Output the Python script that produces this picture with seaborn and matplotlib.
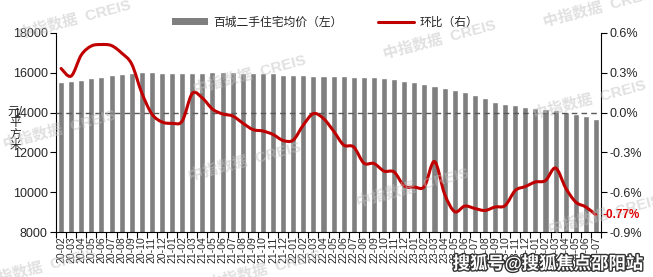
import numpy as np
import matplotlib
matplotlib.use('Agg')
import matplotlib.pyplot as plt
import seaborn as sns
from matplotlib.path import Path
from matplotlib.patches import PathPatch, Patch
from matplotlib.lines import Line2D
import matplotlib.patheffects as pe

# ---- data ----
months = [f"{y % 100:02d}-{m:02d}" for y in range(2020, 2025) for m in range(1, 13)
          if (y, m) >= (2020, 2) and (y, m) <= (2024, 7)]
price = [15545, 15590, 15640, 15730, 15780, 15880, 15930, 15995, 16040, 16040,
         15995, 15970, 15970, 15970, 15995, 16015, 16015, 16015, 15995, 15995,
         15965, 15965, 15900, 15895, 15865, 15845, 15845, 15845, 15830, 15795,
         15780, 15755, 15705, 15655, 15580, 15530, 15430, 15330, 15230, 15130,
         15005, 14880, 14730, 14545, 14430, 14365, 14295, 14245, 14180, 14130,
         14020, 13930, 13830, 13680]
mom = [0.331, 0.274, 0.432, 0.500, 0.511, 0.503, 0.447, 0.364, 0.147, -0.011,
       -0.071, -0.081, -0.064, 0.143, 0.109, 0.026, -0.011, -0.026, -0.079, -0.128,
       -0.139, -0.165, -0.210, -0.207, -0.094, -0.008, -0.045, -0.139, -0.244, -0.259,
       -0.380, -0.383, -0.440, -0.447, -0.552, -0.560, -0.556, -0.368, -0.612, -0.745,
       -0.703, -0.721, -0.736, -0.710, -0.699, -0.586, -0.556, -0.522, -0.511, -0.417,
       -0.567, -0.673, -0.710, -0.770]
left_ticks = [8000, 10000, 12000, 14000, 16000, 18000]
right_ticks = [-0.9, -0.6, -0.3, 0.0, 0.3, 0.6]
bar_label = "百城二手住宅均价（左）"
line_label = "环比（右）"
unit_label = "元/\n平\n方\n米"
last_label = "-0.77%"

BAR_C = '#7f7f7f'
LINE_C = '#c00000'
TXT_C = '#262626'

sns.set_theme(style='ticks')
plt.rcParams['font.family'] = ['Liberation Sans', 'Noto Sans CJK SC', 'DejaVu Sans']
plt.rcParams['axes.unicode_minus'] = False

fig = plt.figure(figsize=(6.53, 2.77), dpi=100)
ax = fig.add_axes([0.0858, 0.1614, 0.8346, 0.7206])

sns.barplot(x=months, y=price, color=BAR_C, saturation=1, width=0.6, ax=ax, zorder=2)
ax.set_xlim(-0.5, len(months) - 0.5)
ax.set_ylim(8000, 18000)
ax.set_yticks(left_ticks)
ax.set_yticklabels([str(v) for v in left_ticks])
ax.axhline(14000, color='#595959', lw=1.0, ls=(0, (4, 3)), zorder=3)
ax.set_xlabel('')
ax.set_ylabel('')

ax.set_xticks(range(len(months)))
ax.set_xticklabels(months, rotation=90, fontsize=7.5, color=TXT_C)
ax.set_xticks(np.arange(-0.5, len(months)), minor=True)
ax.tick_params(axis='x', which='major', length=0, pad=3)
ax.tick_params(axis='x', which='minor', length=4, width=0.8, color='black', direction='out')
ax.tick_params(axis='y', length=4, width=0.8, color='black', labelsize=9, labelcolor=TXT_C, pad=2)
for s in ['top', 'right']:
    ax.spines[s].set_visible(False)
for s in ['left', 'bottom']:
    ax.spines[s].set_color('black')
    ax.spines[s].set_linewidth(0.8)

ax2 = ax.twinx()
n = len(mom)
pts = np.column_stack([np.arange(n, dtype=float), np.array(mom, dtype=float)])
verts = [tuple(pts[0])]
codes = [Path.MOVETO]
for i in range(n - 1):
    p0 = pts[i - 1] if i > 0 else pts[i]
    p1 = pts[i]
    p2 = pts[i + 1]
    p3 = pts[i + 2] if i + 2 < n else pts[i + 1]
    c1 = p1 + (p2 - p0) / 6.0
    c2 = p2 - (p3 - p1) / 6.0
    verts += [tuple(c1), tuple(c2), tuple(p2)]
    codes += [Path.CURVE4, Path.CURVE4, Path.CURVE4]
curve = PathPatch(Path(verts, codes), fill=False, edgecolor=LINE_C, lw=2.2,
                  capstyle='round', joinstyle='round', zorder=5)
ax2.add_patch(curve)
ax2.set_ylim(-0.9, 0.6)
ax2.set_yticks(right_ticks)
ax2.set_yticklabels([f"{v:.1f}%" for v in right_ticks])
ax2.tick_params(axis='y', length=4, width=0.8, color='black', labelsize=9, labelcolor=TXT_C, pad=2)
for s in ['top', 'left', 'bottom']:
    ax2.spines[s].set_visible(False)
ax2.spines['right'].set_color('black')
ax2.spines['right'].set_linewidth(0.8)
ax2.set_ylabel('')

ax2.annotate(last_label, xy=(1.0, mom[-1]), xycoords=('axes fraction', 'data'),
             xytext=(1, 0), textcoords='offset points', ha='left', va='center',
             color='#dd0000', fontweight='bold', fontsize=8.5, zorder=6)

handles = [Patch(facecolor=BAR_C, edgecolor='none', label=bar_label),
           Line2D([], [], color=LINE_C, lw=2.2, label=line_label)]
fig.legend(handles=handles, loc='center', bbox_to_anchor=(0.498, 0.919), ncol=2,
           frameon=False, fontsize=8.5, handlelength=3.0, handleheight=0.5,
           columnspacing=3.0, handletextpad=0.5, labelcolor=TXT_C)

fig.text(0.023, 0.534, unit_label, ha='center', va='center', fontsize=8.5,
         linespacing=0.95, color=TXT_C)

# watermarks
wm = "中指数据  CREIS"
wm_pos = [(75, 20), (250, 75), (440, 40), (600, 8), (60, 130), (245, 162),
          (413, 188), (590, 100), (605, 215), (40, 268), (265, 270)]
for (px, py) in wm_pos:
    fig.text(px / 653, 1 - py / 277, wm, ha='center', va='center', rotation=15,
             fontsize=11, fontweight='bold', color=(0.76, 0.76, 0.76), alpha=0.5,
             zorder=10)
fig.text(548 / 653, 1 - 263 / 277, "搜狐号@搜狐焦点邵阳站", ha='center', va='center',
         fontsize=12.5, fontweight='bold', color='white', zorder=11,
         path_effects=[pe.withStroke(linewidth=2, foreground='#333333')])

fig.savefig('out.png', dpi=100)
